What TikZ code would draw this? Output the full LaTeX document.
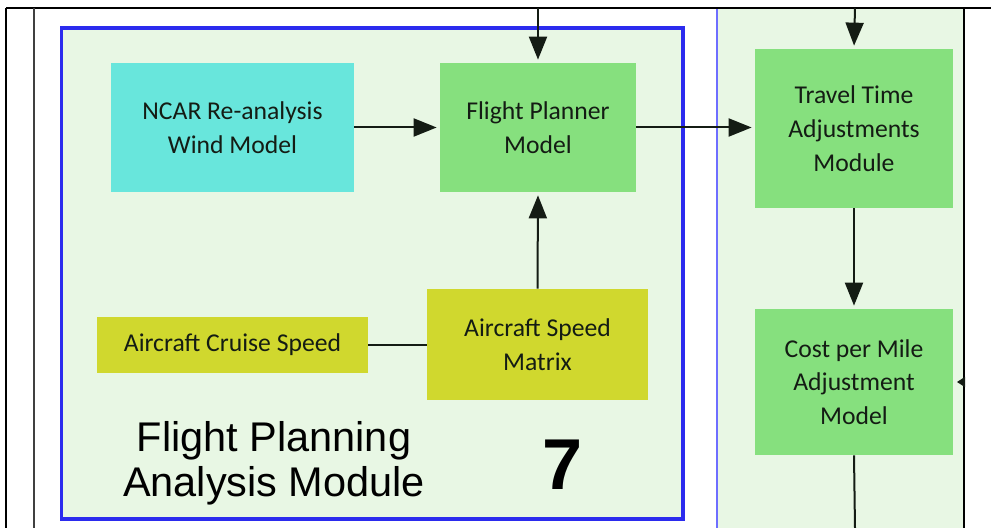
\documentclass[tikz,border=0pt]{standalone}
\usepackage{fontspec}
\setmainfont{Carlito}
\newfontfamily\labelfont{Liberation Sans}
\usepackage{tikz}
\usetikzlibrary{arrows.meta}

\definecolor{paleGreen}{HTML}{E8F7E4}
\definecolor{windCyan}{HTML}{68E6DC}
\definecolor{modelGreen}{HTML}{86E07E}
\definecolor{speedYellow}{HTML}{D0D82E}
\definecolor{frameBlue}{HTML}{2B2BEE}
\definecolor{panelBlue}{HTML}{6E6EFF}
\definecolor{inkDark}{HTML}{141C14}

\tikzset{
	box/.style={inner sep=0pt, align=center, text=inkDark,
		font=\fontsize{14.6}{19.2}\selectfont},
	flow/.style={line width=0.4mm, draw=inkDark,
		-{Triangle[length=4.6mm,width=3.6mm]}, shorten >=0.6mm},
	link/.style={line width=0.4mm, draw=inkDark},
}

\begin{document}
\begin{tikzpicture}[x=0.2mm, y=-0.2mm]
	\useasboundingbox (0,0) rectangle (991,528);
	% table frame
	\fill [paleGreen] (717,8) rectangle (964,528);
	\draw [panelBlue, line width=0.3mm] (717,8) -- (717,528);
	\draw [line width=0.35mm] (6,8) -- (991,8);
	\draw [line width=0.35mm] (6,8) -- (6,528);
	\draw [black!75, line width=0.5mm] (34,8) -- (34,528);
	\draw [line width=0.35mm] (964,8) -- (964,528);
	% module frame
	\draw [frameBlue, fill=paleGreen, line width=0.65mm] (61.5,28) rectangle (683,519);

	\node[box, fill=windCyan, minimum width=48.6mm, minimum height=25.8mm] (wind) at (232.5,127.5) {NCAR Re-analysis\\Wind Model};
	\node[box, fill=modelGreen, minimum width=39.2mm, minimum height=25.8mm] (planner) at (538,127.5) {Flight Planner\\Model};
	\node[box, fill=modelGreen, minimum width=39.6mm, minimum height=31.8mm] (travel) at (854,128.5) {Travel Time\\Adjustments\\Module};
	\node[box, fill=modelGreen, minimum width=39.6mm, minimum height=29.2mm] (cost) at (854,382) {Cost per Mile\\Adjustment\\Model};
	\node[box, fill=speedYellow, minimum width=44.2mm, minimum height=22.2mm] (matrix) at (537.5,344.5) {Aircraft Speed\\Matrix};
	\node[box, fill=speedYellow, minimum width=54.2mm, minimum height=11.2mm] (cruise) at (232.5,345) {Aircraft Cruise Speed};

	\node[align=center, font=\labelfont\fontsize{23.6}{25.6}\selectfont] (title) at (274,463) {Flight Planning\\Analysis Module};
	\node[font=\labelfont\bfseries\fontsize{41}{41}\selectfont] (num) at (563,465) {7};

	\coordinate (inA) at (538,8);
	\coordinate (inB) at (855,8);
	\coordinate (outC) at (855,528);
	\coordinate (sideA) at (964,382);
	\coordinate (sideB) at (957,382);

	\draw [flow] (inA) -- (planner.north);
	\draw [flow] (wind.east) -- (planner.west);
	\draw [flow] (planner.east) -- (travel.west |- planner.east);
	\draw [flow] (inB) -- (travel.north);
	\draw [flow] (travel.south) -- (cost.north);
	\draw [link] (cost.south) -- (outC);
	\draw [link] (cruise.east) -- (matrix.west |- cruise.east);
	\draw [flow] (matrix.north) -- (planner.south);
	\draw [inkDark, line width=0.2mm, -{Triangle[length=1.6mm,width=2mm]}] (sideA) -- (sideB);
\end{tikzpicture}
\end{document}
